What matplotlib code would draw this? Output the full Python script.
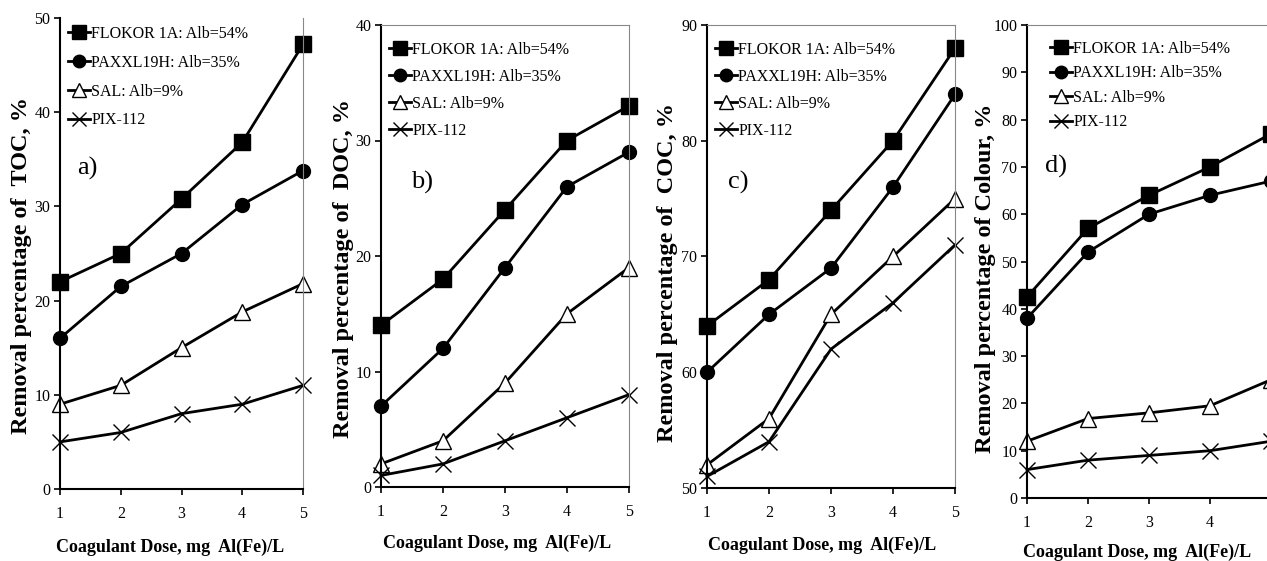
import matplotlib
matplotlib.use("Agg")
import matplotlib.pyplot as plt

dose = [1, 2, 3, 4, 5]
series_names = ["FLOKOR 1A: Alb=54%", "PAXXL19H: Alb=35%", "SAL: Alb=9%", "PIX-112"]

toc_flokor = [22, 25, 30.8, 36.8, 47.2]
toc_paxxl = [16, 21.5, 25, 30.2, 33.8]
toc_sal = [9, 11, 15, 18.8, 21.8]
toc_pix = [5, 6, 8, 9, 11]

doc_flokor = [14, 18, 24, 30, 33]
doc_paxxl = [7, 12, 19, 26, 29]
doc_sal = [2, 4, 9, 15, 19]
doc_pix = [1, 2, 4, 6, 8]

coc_flokor = [64, 68, 74, 80, 88]
coc_paxxl = [60, 65, 69, 76, 84]
coc_sal = [52, 56, 65, 70, 75]
coc_pix = [51, 54, 62, 66, 71]

col_flokor = [42.5, 57, 64, 70, 77]
col_paxxl = [38, 52, 60, 64, 67]
col_sal = [12, 16.8, 18, 19.5, 25]
col_pix = [6, 8, 9, 10, 12]

panel_labels = ["a)", "b)", "c)", "d)"]
y_labels = ["Removal percentage of  TOC, %", "Removal percentage of  DOC, %",
            "Removal percentage of  COC, %", "Removal percentage of Colour, %"]
x_label = "Coagulant Dose, mg  Al(Fe)/L"
y_limits = [(0, 50), (0, 40), (50, 90), (0, 100)]
y_steps = [10, 10, 10, 10]

panels = [
    (toc_flokor, toc_paxxl, toc_sal, toc_pix),
    (doc_flokor, doc_paxxl, doc_sal, doc_pix),
    (coc_flokor, coc_paxxl, coc_sal, coc_pix),
    (col_flokor, col_paxxl, col_sal, col_pix),
]

plt.rcParams['font.family'] = ['Liberation Serif', 'DejaVu Serif']

W, H = 1267, 561
fig = plt.figure(figsize=(W / 100, H / 100), dpi=100)

# axes boxes in pixels: left, top, right, bottom
boxes = [(60, 18, 303, 489), (381, 25, 629, 487), (707, 25, 955, 488), (1027, 25, 1271, 498)]
label_pos = [(0.07, 0.68), (0.12, 0.66), (0.085, 0.66), (0.074, 0.70)]
ylabel_xy = [(22, 265), (343, 268), (668, 272), (985, 278)]
xlabel_xy = [(170, 547), (497, 543), (822, 545), (1137, 552)]
legend_shift = [(0, 0), (0, 9), (0, 9), (15, 8)]
legend_spacing = [0.8, 0.69, 0.69, 0.53]

styles = [
    dict(marker='s', markersize=11, markerfacecolor='black', markeredgecolor='black'),
    dict(marker='o', markersize=10, markerfacecolor='black', markeredgecolor='black'),
    dict(marker='^', markersize=11, markerfacecolor='white', markeredgecolor='black', markeredgewidth=1.0),
    dict(marker='x', markersize=11, markeredgecolor='black', markeredgewidth=1.0),
]

for i, data in enumerate(panels):
    l, t, r, b = boxes[i]
    w, h = r - l, b - t
    ax = fig.add_axes([l / W, 1 - b / H, w / W, h / H])
    for vals, name, st in zip(data, series_names, styles):
        ax.plot(dose, vals, color='black', linewidth=2, label=name, clip_on=False, **st)
    ax.set_xlim(1, 5)
    ax.set_ylim(*y_limits[i])
    lo, hi = y_limits[i]
    ax.set_yticks(list(range(lo, hi + 1, y_steps[i])))
    ax.set_xticks(dose)
    ax.tick_params(direction='out', length=4, width=1.2, labelsize=11.5, colors='black', pad=3)
    ax.tick_params(axis='x', pad=8)
    for s in ['left', 'bottom']:
        ax.spines[s].set_linewidth(1.5)
        ax.spines[s].set_color('black')
    for s in ['top', 'right']:
        ax.spines[s].set_linewidth(0.8)
        ax.spines[s].set_color('#888888')
    if i == 0:
        ax.spines['top'].set_visible(False)
    ax.set_xlabel(x_label, fontsize=13, fontweight='bold')
    ax.xaxis.set_label_coords((xlabel_xy[i][0] - l) / w, (b - xlabel_xy[i][1]) / h,
                              transform=ax.transAxes)
    ax.xaxis.label.set_va('center')
    ax.set_ylabel(y_labels[i], fontsize=17.5, fontweight='bold')
    ax.yaxis.set_label_coords((ylabel_xy[i][0] - l) / w, (b - ylabel_xy[i][1]) / h)
    ax.yaxis.label.set_va('center')
    ax.text(label_pos[i][0], label_pos[i][1], panel_labels[i], transform=ax.transAxes,
            fontsize=19, va='center', ha='left')
    dx, dy = legend_shift[i]
    ax.legend(loc='upper left', bbox_to_anchor=(dx / w, 1 - dy / h), frameon=False,
              fontsize=11.5, handlelength=1.4, handletextpad=0.05, borderaxespad=0.3,
              labelspacing=legend_spacing[i], borderpad=0.2, markerscale=0.9)

fig.savefig("out.png", dpi=100)
